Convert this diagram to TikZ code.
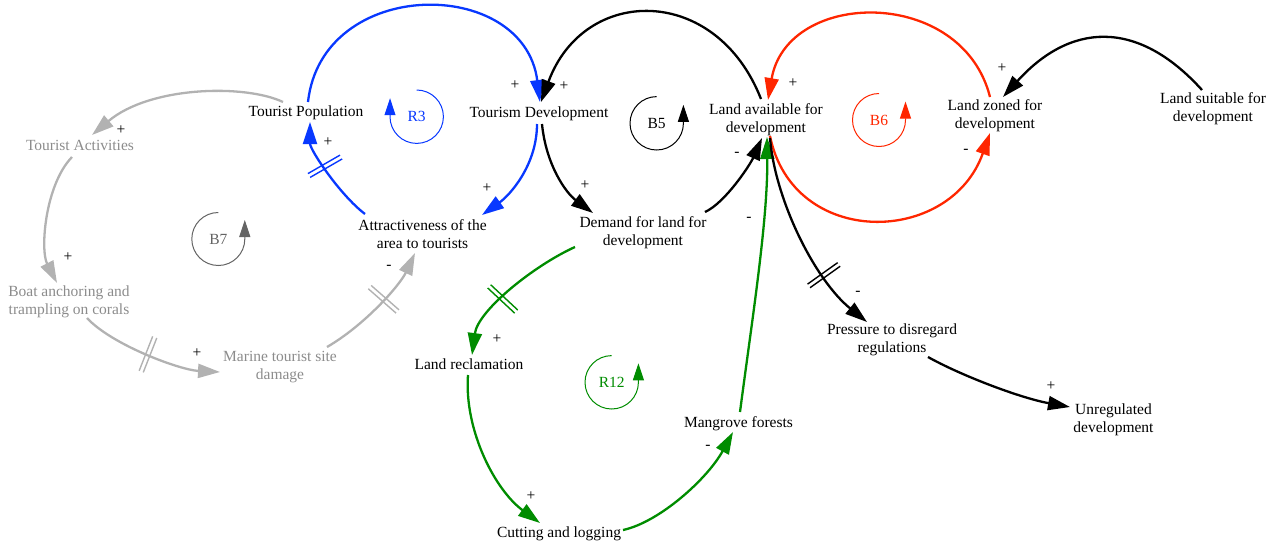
\documentclass[tikz,border=0pt]{standalone}
\usepackage{fontspec}
\setmainfont{Liberation Serif}
\usetikzlibrary{arrows.meta,calc,decorations.markings}
\definecolor{cblue}{RGB}{8,56,255}
\definecolor{cred}{RGB}{255,38,0}
\definecolor{cgreen}{RGB}{0,140,0}
\definecolor{cgrayline}{RGB}{178,178,178}
\definecolor{cgraytext}{RGB}{140,140,140}
\definecolor{cgrayloop}{RGB}{100,100,100}
\begin{document}
\begin{tikzpicture}[x=1pt,y=-1pt,
  var/.style={align=center, inner sep=0pt, font=\fontsize{15.5}{18.2}\selectfont},
  pol/.style={inner sep=0pt, font=\fontsize{15.5}{18.2}\selectfont},
  looplabel/.style={inner sep=0pt, font=\fontsize{15.5}{18.2}\selectfont},
  link/.style={line width=2.3pt, -{Triangle[length=22pt,width=14pt]}},
  loopline/.style={line width=1pt, -{Triangle[length=17pt,width=11pt]}},
  delay/.style={postaction={decorate, decoration={markings,
      mark=at position #1 with {\draw[-, line width=1.4pt]
        (-2.2pt,-18.5pt) -- (-2.2pt,18.5pt) (2.2pt,-18.5pt) -- (2.2pt,18.5pt);}}}},
]
\useasboundingbox (0,0) rectangle (1278,544);

% variables
\node[var] (tp) at (306,113) {Tourist Population};
\node[var] (td) at (539,114) {Tourism Development};
\node[var] (la) at (766,120) {Land available for\\development};
\node[var] (lz) at (995,116) {Land zoned for\\development};
\node[var] (ls) at (1213,109) {Land suitable for\\development};
\node[var, text=cgraytext] (ta) at (80,145) {Tourist Activities};
\node[var] (at) at (422.5,234.5) {Attractiveness of the\\area to tourists};
\node[var] (dl) at (643,232.5) {Demand for land for\\development};
\node[var, text=cgraytext] (ba) at (69,302) {Boat anchoring and\\trampling on corals};
\node[var, text=cgraytext] (md) at (280,367) {Marine tourist site\\damage};
\node[var] (lr) at (469,364) {Land reclamation};
\node[var] (pr) at (892,340) {Pressure to disregard\\regulations};
\node[var] (ud) at (1113.5,420) {Unregulated\\development};
\node[var] (mf) at (738.5,423.5) {Mangrove forests};
\node[var] (cl) at (559,534) {Cutting and logging};

% R3 loop (blue)
\draw[link, cblue] ($(tp)+(2,-11)$) .. controls (322,-24) and (524,-24) .. ($(td)+(1,-12)$);
\draw[link, cblue] ($(td)+(-2,10)$) .. controls (537,165) and (510,195) .. ($(at)+(59.5,-19.5)$);
\draw[link, cblue, delay=0.57] ($(at)+(-57.5,-20.5)$) .. controls (340,195) and (310,150) .. ($(tp)+(4,9)$);

% B5 loop (black)
\draw[link] ($(la)+(-5,-21)$) .. controls (716,-16) and (584,-15) .. ($(td)+(2,-12)$);
\draw[link] ($(td)+(3,10)$) .. controls (546,165) and (566,193) .. ($(dl)+(-50,-19.5)$);
\draw[link] ($(dl)+(62,-20.5)$) .. controls (725,203) and (750,165) .. ($(la)+(-4,18)$);

% B6 loop (red)
\draw[link, cred] ($(lz)+(-5,-19)$) .. controls (962,-14) and (787,-11) .. ($(la)+(2,-20)$);
\draw[link, cred] ($(la)+(4,16)$) .. controls (793,249) and (950,246) .. ($(lz)+(-5,17)$);
\draw[link] ($(ls)+(-11,-19)$) .. controls (1136,17) and (1069,24) .. ($(lz)+(8,-19)$);

% R12 loop (green)
\draw[link, cgreen, delay=0.58] ($(dl)+(-68,14.5)$) .. controls (535,265) and (478,310) .. ($(lr)+(3,-9)$);
\draw[link, cgreen] ($(lr)+(-1,11)$) .. controls (464,430) and (495,490) .. ($(cl)+(-19,-11)$);
\draw[link, cgreen] ($(cl)+(64,-4)$) .. controls (660,522) and (708,478) .. ($(mf)+(-5.5,8.5)$);
\draw[link, cgreen] ($(mf)+(1.5,-11.5)$) .. controls (752,320) and (768,220) .. ($(la)+(1,17)$);

% regulation pressure chain
\draw[link, delay=0.70] ($(la)+(4,18)$) .. controls (775,200) and (815,280) .. ($(pr)+(-25,-18)$);
\draw[link] ($(pr)+(36,17)$) .. controls (960,375) and (1020,398) .. ($(ud)+(-43.5,-13)$);

% B7 loop (grey)
\draw[link, cgrayline] ($(tp)+(-23,-11)$) .. controls (245,84) and (150,86) .. ($(ta)+(12,-10)$);
\draw[link, cgrayline] ($(ta)+(-8,12)$) .. controls (45,185) and (40,250) .. ($(ba)+(-12,-19)$);
\draw[link, cgrayline, delay=0.49] ($(ba)+(18,16)$) .. controls (112,345) and (180,370) .. ($(md)+(-60,5)$);
\draw[link, cgrayline, delay=0.57] ($(md)+(47,-20)$) .. controls (365,325) and (400,285) .. ($(at)+(-7.5,18.5)$);

% polarities
\node[pol] (p1) at (515,85) {+};
\node[pol] (p2) at (564,86) {+};
\node[pol] (p3) at (585,185) {+};
\node[pol] (p4) at (737,154) {-};
\node[pol] (p5) at (487,188) {+};
\node[pol] (p6) at (328,142) {+};
\node[pol] (p7) at (793,83) {+};
\node[pol] (p8) at (966,151) {-};
\node[pol] (p9) at (1002,68) {+};
\node[pol] (p10) at (749,219) {-};
\node[pol] (p11) at (858,293) {-};
\node[pol] (p12) at (1051,386) {+};
\node[pol] (p13) at (497,339) {+};
\node[pol] (p14) at (531,496) {+};
\node[pol] (p15) at (708,447) {-};
\node[pol] (p16) at (121,130) {+};
\node[pol] (p17) at (68,257) {+};
\node[pol] (p18) at (197,353) {+};
\node[pol] (p19) at (389,267) {-};

% loop identifiers
\node[looplabel, text=cblue] (r3) at (416.7,116.7) {R3};
\draw[loopline, cblue] ($(r3)+(0,-26.7)$) arc[start angle=90, end angle=-180, radius=26.7pt] -- ++(0,-18.5);
\node[looplabel] (b5) at (656.7,123.3) {B5};
\draw[loopline] ($(b5)+(0,-26.7)$) arc[start angle=90, end angle=360, radius=26.7pt] -- ++(0,-18.5);
\node[looplabel, text=cred] (b6) at (879,120) {B6};
\draw[loopline, cred] ($(b6)+(0,-26.5)$) arc[start angle=90, end angle=360, radius=26.5pt] -- ++(0,-18.5);
\node[looplabel, text=cgreen] (r12) at (611.7,382.3) {R12};
\draw[loopline, cgreen] ($(r12)+(0,-26.7)$) arc[start angle=90, end angle=360, radius=26.7pt] -- ++(0,-19);
\node[looplabel, text=cgrayloop] (b7) at (218.3,239) {B7};
\draw[loopline, cgrayloop] ($(b7)+(0,-26.5)$) arc[start angle=90, end angle=360, radius=26.5pt] -- ++(0,-19);
\end{tikzpicture}
\end{document}
